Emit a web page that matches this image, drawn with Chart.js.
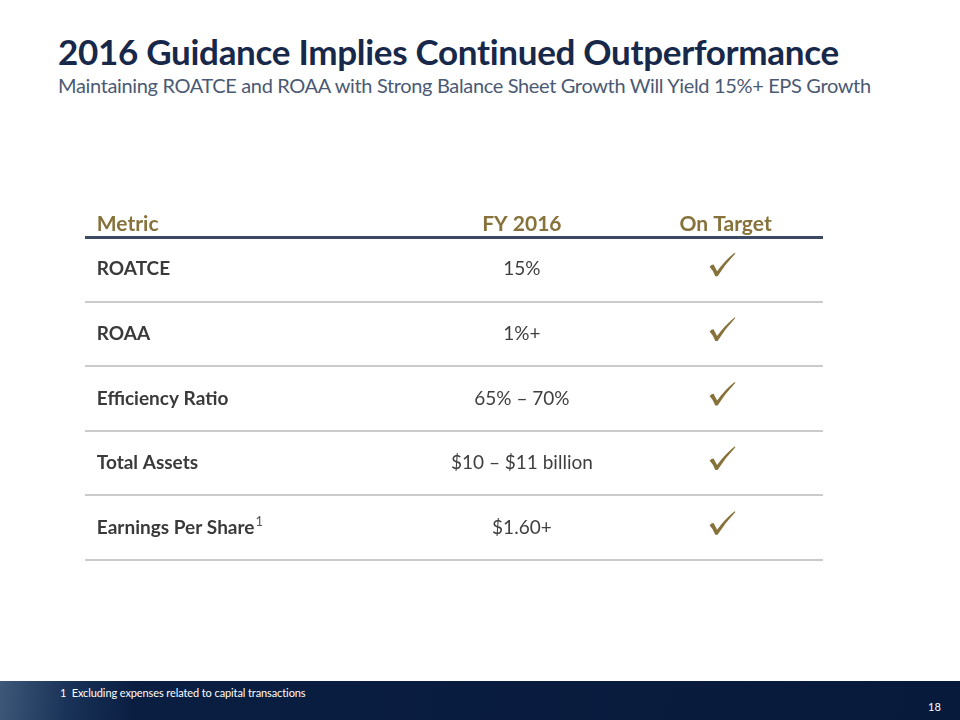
<!DOCTYPE html>
<html>
<head>
<meta charset="utf-8">
<script src="https://cdn.jsdelivr.net/npm/chart.js@4.4.1/dist/chart.umd.min.js"></script>
<style>
  html, body { margin: 0; padding: 0; background: #ffffff; }
  body { width: 960px; height: 720px; position: relative; overflow: hidden; font-family: Lato, "Open Sans", sans-serif; }
  #title { position: absolute; left: 58px; top: 30px; font-size: 35px; font-weight: 700; color: #18284a; white-space: nowrap; letter-spacing: -0.3px; }
  #subtitle { position: absolute; left: 58px; top: 73px; font-size: 20px; font-weight: 400; color: #4b5a74; white-space: nowrap; letter-spacing: -0.35px; }
  #chart { position: absolute; left: 0; top: 0; }
  #footer { position: absolute; left: 0; top: 681px; width: 960px; height: 39px;
    background: linear-gradient(95deg, #3d5879 0%, #1a3358 7%, #0a1e42 14%, #071a3b 100%); }
  #footnote { position: absolute; left: 60px; top: 5px; font-size: 11px; color: #ffffff; white-space: nowrap; letter-spacing: -0.1px; }
  #page { position: absolute; left: 928px; top: 19px; font-size: 11px; color: #ffffff; }
</style>
</head>
<body>
<div id="title">2016 Guidance Implies Continued Outperformance</div>
<div id="subtitle">Maintaining ROATCE and ROAA with Strong Balance Sheet Growth Will Yield 15%+ EPS Growth</div>
<canvas id="chart" width="960" height="720"></canvas>
<div id="footer"><div id="footnote">1&nbsp;&nbsp;Excluding expenses related to capital transactions</div><div id="page">18</div></div>
<script>
// ---- data ----
const columns = ['Metric', 'FY 2016', 'On Target'];
const metrics = ['ROATCE', 'ROAA', 'Efficiency Ratio', 'Total Assets', 'Earnings Per Share'];
const fy2016 = ['15%', '1%+', '65% – 70%', '$10 – $11 billion', '$1.60+'];
const onTarget = [true, true, true, true, true];
const footnoteMarks = ['', '', '', '', '1'];

// ---- layout (not data) ----
const colAnchor = [0.016, 0.592, 0.868];   // fraction of table width
const GOLD = '#86723a';

const tablePlugin = {
  id: 'tableText',
  afterDraw(chart) {
    const ctx = chart.ctx;
    const xs = chart.scales.x, ys = chart.scales.y;
    const colX = colAnchor.map(f => xs.getPixelForValue(f));
    ctx.save();
    // header
    const hy = ys.getPixelForValue(-0.2);
    ctx.fillStyle = GOLD;
    ctx.font = '700 21px Lato';
    ctx.textBaseline = 'middle';
    ctx.textAlign = 'left';
    ctx.fillText(columns[0], colX[0], hy);
    ctx.textAlign = 'center';
    ctx.fillText(columns[1], colX[1], hy);
    ctx.fillText(columns[2], colX[2], hy);
    // rows
    metrics.forEach((m, i) => {
      const y = ys.getPixelForValue(i + 0.5);
      ctx.textAlign = 'left';
      ctx.fillStyle = '#3a3a3a';
      ctx.font = '700 19px Lato';
      ctx.fillText(m, colX[0], y);
      if (footnoteMarks[i]) {
        const w = ctx.measureText(m).width;
        ctx.font = '400 13px Lato';
        ctx.fillStyle = '#555555';
        ctx.fillText(footnoteMarks[i], colX[0] + w + 1, y - 6);
      }
      ctx.textAlign = 'center';
      ctx.fillStyle = '#3f3f3f';
      ctx.font = '400 19px Lato';
      ctx.fillText(fy2016[i], colX[1], y);
      if (onTarget[i]) {
        const cx = colX[2] - 3.5, cy = y - 5;
        ctx.fillStyle = GOLD;
        ctx.beginPath();
        ctx.moveTo(cx - 12.5, cy + 2.5);
        ctx.quadraticCurveTo(cx - 10.5, cy + 0.2, cx - 8.5, cy + 0.3);
        ctx.lineTo(cx - 5, cy + 7);
        ctx.quadraticCurveTo(cx + 3, cy - 4, cx + 12.5, cy - 11.5);
        ctx.lineTo(cx + 13.3, cy - 10.8);
        ctx.quadraticCurveTo(cx + 3, cy + 0, cx - 4.5, cy + 12);
        ctx.lineTo(cx - 6.8, cy + 12);
        ctx.quadraticCurveTo(cx - 9, cy + 6, cx - 12.5, cy + 2.5);
        ctx.closePath();
        ctx.fill();
      }
    });
    ctx.restore();
  }
};

new Chart(document.getElementById('chart'), {
  type: 'scatter',
  data: { datasets: [{ data: [], pointRadius: 0 }] },
  options: {
    responsive: false,
    animation: false,
    layout: { padding: { left: 85, right: 137, top: 237, bottom: 160 } },
    plugins: { legend: { display: false }, tooltip: { enabled: false }, title: { display: false } },
    scales: {
      x: { type: 'linear', min: 0, max: 1, display: false },
      y: {
        type: 'linear', min: 0, max: metrics.length, reverse: true,
        ticks: { display: false, stepSize: 1 },
        border: { display: false },
        grid: {
          drawTicks: false,
          color: c => c.tick.value === 0 ? '#3c4b63' : '#cbcbcb',
          lineWidth: c => c.tick.value === 0 ? 3 : 2
        }
      }
    }
  },
  plugins: [tablePlugin]
});
</script>
</body>
</html>
